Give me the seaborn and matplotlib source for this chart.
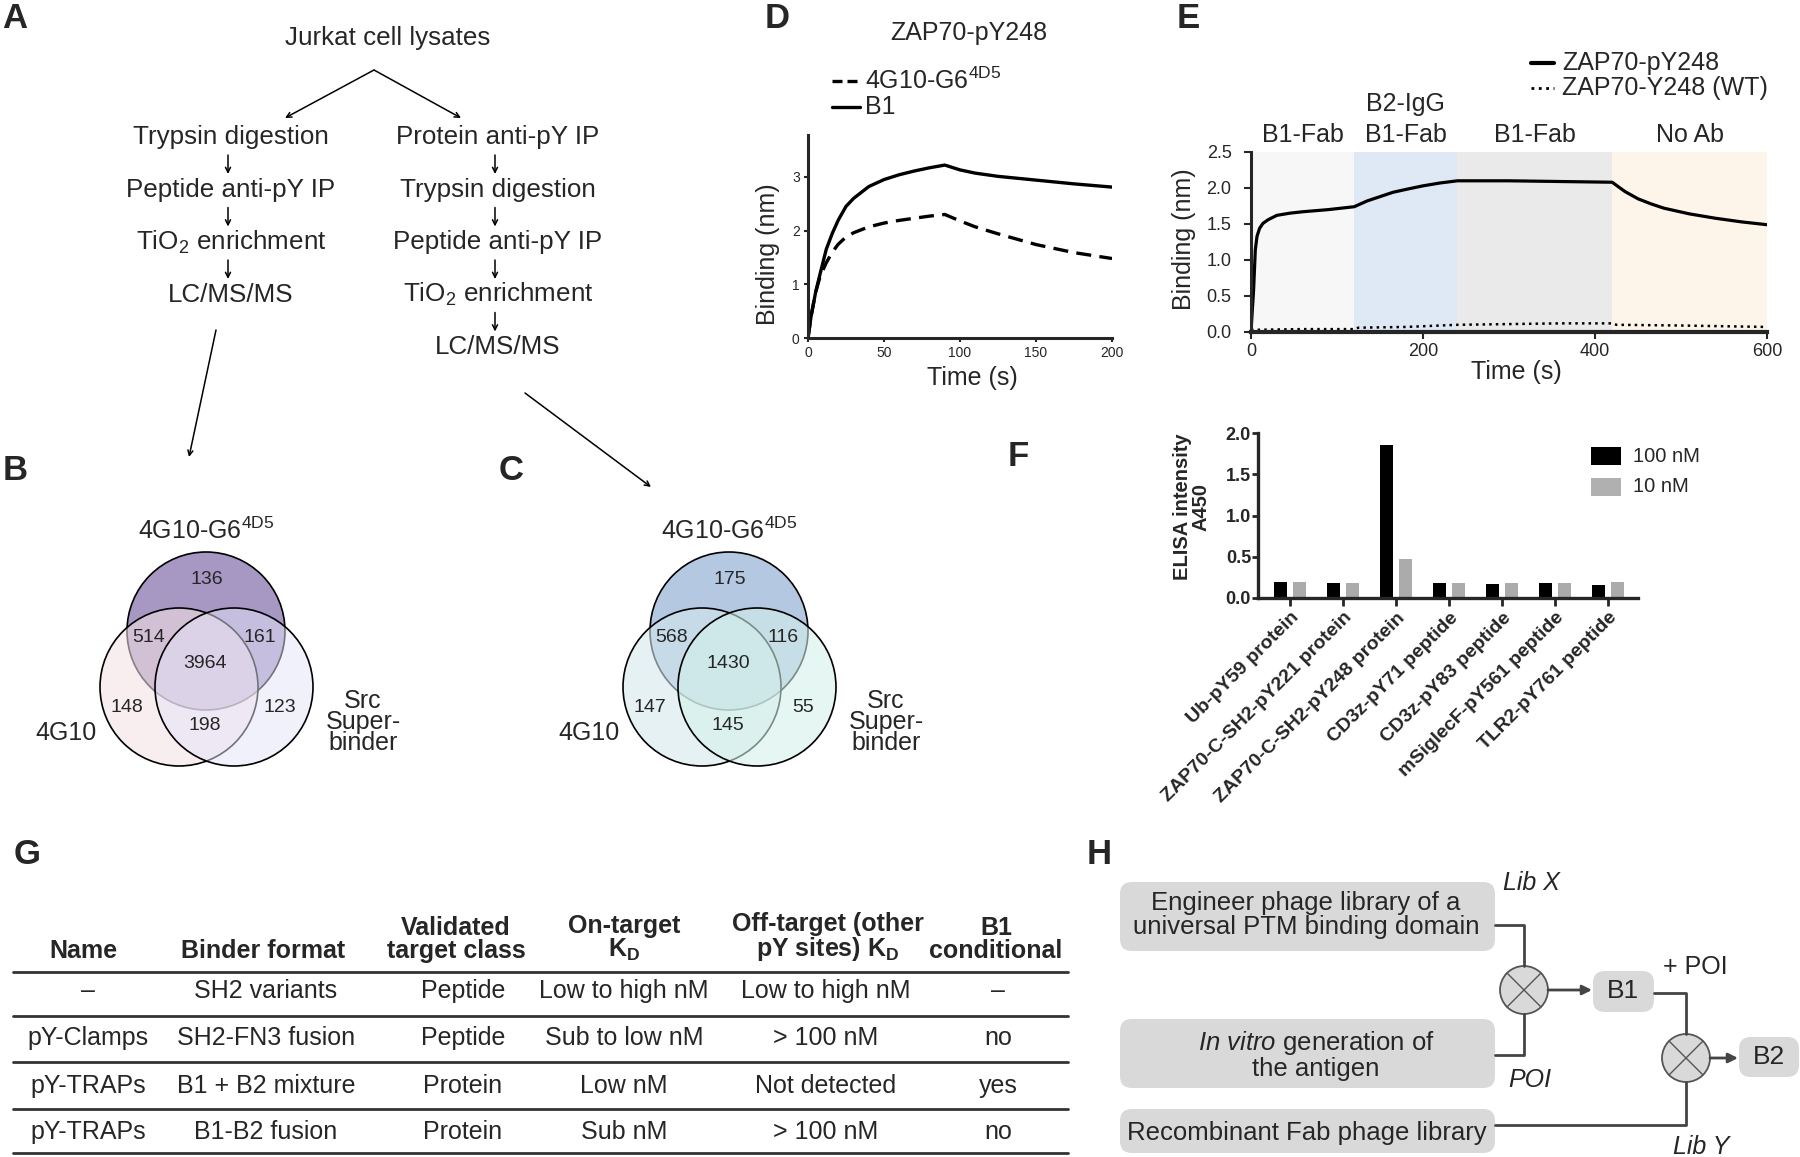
import matplotlib
matplotlib.use('Agg')
import numpy as np
import pandas as pd
import matplotlib.pyplot as plt
from matplotlib.patches import Circle, FancyBboxPatch, Rectangle
from matplotlib.transforms import blended_transform_factory
import seaborn as sns

# ---------------- data ----------------
# A: workflow steps
a_left_steps = ['Trypsin digestion', 'Peptide anti-pY IP', 'TiO$_2$ enrichment', 'LC/MS/MS']
a_right_steps = ['Protein anti-pY IP', 'Trypsin digestion', 'Peptide anti-pY IP',
                 'TiO$_2$ enrichment', 'LC/MS/MS']

# B / C: venn counts (top only, top&left, top&right, all, left only, left&right, right only)
venn_b_counts = [136, 514, 161, 3964, 148, 198, 123]
venn_c_counts = [175, 568, 116, 1430, 147, 145, 55]
venn_sets = ['4G10-G6$^{\\mathregular{4D5}}$', '4G10', 'Src\nSuper-\nbinder']

# D: BLI binding to ZAP70-pY248
d_time = [0, 2, 5, 8, 12, 16, 20, 25, 30, 40, 50, 60, 70, 80, 90, 100, 110, 125, 150, 175, 200]
d_b1 = [0, 0.4, 0.85, 1.2, 1.65, 1.95, 2.2, 2.45, 2.6, 2.82, 2.95, 3.04, 3.11, 3.17, 3.22,
        3.13, 3.07, 3.01, 2.94, 2.87, 2.81]
d_4g10 = [0, 0.4, 0.85, 1.15, 1.4, 1.6, 1.75, 1.88, 1.96, 2.07, 2.14, 2.19, 2.23, 2.27, 2.3,
          2.18, 2.07, 1.94, 1.74, 1.59, 1.48]

# E: sequential binding
e_time = [0, 1, 3, 5, 7, 10, 14, 20, 30, 45, 60, 90, 120, 135, 150, 165, 180, 200, 220, 240,
          300, 360, 420, 428, 435, 450, 465, 480, 510, 540, 570, 600]
e_py248 = [0.0, 0.2, 0.58, 1.14, 1.33, 1.44, 1.51, 1.56, 1.62, 1.65, 1.67, 1.70, 1.74, 1.82,
           1.88, 1.94, 1.98, 2.03, 2.07, 2.10, 2.10, 2.09, 2.08, 2.01, 1.95, 1.85, 1.78, 1.72,
           1.64, 1.58, 1.53, 1.49]
e_wt_time = [0, 60, 120, 125, 180, 240, 300, 360, 420, 425, 500, 600]
e_wt = [0.03, 0.04, 0.04, 0.06, 0.07, 0.10, 0.11, 0.12, 0.12, 0.10, 0.09, 0.07]
e_phases = [(0, 120), (120, 240), (240, 420), (420, 600)]
e_phase_labels = ['B1-Fab', 'B2-IgG\nB1-Fab', 'B1-Fab', 'No Ab']
e_phase_colors = ['#f7f7f7', '#dfe9f6', '#eaeaea', '#fdf5ea']

# F: ELISA
f_targets = ['Ub-pY59 protein', 'ZAP70-C-SH2-pY221 protein', 'ZAP70-C-SH2-pY248 protein',
             'CD3z-pY71 peptide', 'CD3z-pY83 peptide', 'mSiglecF-pY561 peptide', 'TLR2-pY761 peptide']
f_100nm = [0.19, 0.18, 1.85, 0.18, 0.17, 0.18, 0.16]
f_10nm = [0.19, 0.18, 0.47, 0.18, 0.18, 0.18, 0.20]

# G: table
g_header = ['Name', 'Binder format', 'Validated\ntarget class', 'On-target\nK$_\\mathbf{D}$',
            'Off-target (other\npY sites) K$_\\mathbf{D}$', 'B1\nconditional']
g_names = ['\u2013', 'pY-Clamps', 'pY-TRAPs', 'pY-TRAPs']
g_format = ['SH2 variants', 'SH2-FN3 fusion', 'B1 + B2 mixture', 'B1-B2 fusion']
g_class = ['Peptide', 'Peptide', 'Protein', 'Protein']
g_on = ['Low to high nM', 'Sub to low nM', 'Low nM', 'Sub nM']
g_off = ['Low to high nM', '> 100 nM', 'Not detected', '> 100 nM']
g_cond = ['\u2013', 'no', 'yes', 'no']

# ---------------- style ----------------
sns.set_style('ticks')
plt.rcParams['font.family'] = ['Liberation Sans', 'DejaVu Sans']
plt.rcParams['mathtext.fontset'] = 'custom'
plt.rcParams['mathtext.rm'] = 'Liberation Sans'
plt.rcParams['mathtext.it'] = 'Liberation Sans:italic'
plt.rcParams['mathtext.bf'] = 'Liberation Sans:bold'

W, H = 1800, 1157
fig = plt.figure(figsize=(W / 100, H / 100), dpi=100)
ov = fig.add_axes([0, 0, 1, 1])
ov.set_xlim(0, W)
ov.set_ylim(H, 0)
ov.axis('off')


def px_axes(left, top, right, bottom):
    return fig.add_axes([left / W, 1 - bottom / H, (right - left) / W, (bottom - top) / H])


TXT = 18.7
for letter, (x, y) in {'A': (15, 19), 'B': (15, 471), 'C': (511, 471), 'D': (777, 19),
                       'E': (1188, 19), 'F': (1018, 456), 'G': (27, 854), 'H': (1099, 854)}.items():
    ov.text(x, y, letter, fontsize=25, fontweight='bold', ha='center', va='center')

# ---------------- A: workflow ----------------
small_arrow = dict(arrowstyle='->', color='black', lw=1.1, shrinkA=0, shrinkB=0, mutation_scale=9)
ov.text(388, 38, 'Jurkat cell lysates', ha='center', va='center', fontsize=TXT)
ov.annotate('', xy=(285, 118), xytext=(374, 70), arrowprops=small_arrow)
ov.annotate('', xy=(461, 118), xytext=(374, 70), arrowprops=small_arrow)
for col_x, steps in [(231, a_left_steps), (498, a_right_steps)]:
    for i, s in enumerate(steps):
        y = 137 + 52.5 * i
        ov.text(col_x, y, s, ha='center', va='center', fontsize=TXT)
        if i < len(steps) - 1:
            ov.annotate('', xy=(col_x - 3, y + 37), xytext=(col_x - 3, y + 18), arrowprops=small_arrow)
ov.annotate('', xy=(189, 457), xytext=(216, 330), arrowprops=small_arrow)
ov.annotate('', xy=(651, 487), xytext=(525, 393), arrowprops=small_arrow)

# ---------------- B / C: venn ----------------
venn_offsets = [(1, -51), (-57, 6), (54, 6), (-1, 32), (-79, 76), (-1, 95), (74, 76)]


def draw_venn(cx, counts, colors, alphas):
    r = 79
    centers = [(cx, 631), (cx - 27, 687), (cx + 28, 687)]
    for (x, y), c, a in zip(centers, colors, alphas):
        ov.add_patch(Circle((x, y), r, facecolor=c, alpha=a, lw=0))
        ov.add_patch(Circle((x, y), r, facecolor='none', edgecolor='black', lw=1.2))
    for n, (dx, dy) in zip(counts, venn_offsets):
        ov.text(cx + dx, 631 + dy, str(n), ha='center', va='center', fontsize=14)
    ov.text(cx, 531, venn_sets[0], ha='center', va='center', fontsize=18)
    ov.text(cx - 140, 733, venn_sets[1], ha='center', va='center', fontsize=18)
    ov.text(cx + 157, 722, venn_sets[2], ha='center', va='center', fontsize=18, linespacing=0.85)


draw_venn(206, venn_b_counts, ['#a797c3', '#f3e1e3', '#e5e5f9'], [1, 0.57, 0.5])
draw_venn(729, venn_c_counts, ['#b5c8e1', '#d4e8ed', '#d4f1ea'], [1, 0.58, 0.58])

# ---------------- D ----------------
axd = px_axes(808, 135, 1112, 338)
axd.set_facecolor('none')
sns.lineplot(x=d_time, y=d_b1, ax=axd, color='black', lw=2.4)
sns.lineplot(x=d_time, y=d_4g10, ax=axd, color='black', lw=2.4, linestyle=(0, (4.5, 2.5)))
axd.set_xlim(0, 200)
axd.set_ylim(0, 3.78)
axd.set_xticks([0, 50, 100, 150, 200])
axd.set_yticks([0, 1, 2, 3])
sns.despine(ax=axd)
for s in ['left', 'bottom']:
    axd.spines[s].set_linewidth(2.2)
axd.tick_params(length=3, width=1.5, labelsize=10, pad=3)
axd.set_xlabel('')
axd.set_ylabel('')
ov.text(969, 33, 'ZAP70-pY248', ha='center', va='center', fontsize=18)
ov.text(768, 254, 'Binding (nm)', ha='center', va='center', rotation=90, fontsize=18)
ov.text(972, 378, 'Time (s)', ha='center', va='center', fontsize=18)
ov.plot([832, 860], [81, 81], color='black', lw=2.4, ls=(0, (3, 1.5)))
ov.plot([832, 860], [107, 107], color='black', lw=2.4)
ov.text(865, 81, '4G10-G6$^{\\mathregular{4D5}}$', ha='left', va='center', fontsize=18)
ov.text(865, 107, 'B1', ha='left', va='center', fontsize=18)

# ---------------- E ----------------
axe = px_axes(1251, 152, 1767, 332)
axe.set_facecolor('none')
for (a, b), c in zip(e_phases, e_phase_colors):
    axe.axvspan(a, b, color=c, lw=0, zorder=0)
sns.lineplot(x=e_time, y=e_py248, ax=axe, color='black', lw=2.3)
sns.lineplot(x=e_wt_time, y=e_wt, ax=axe, color='black', lw=1.8, linestyle=':')
axe.set_xlim(0, 600)
axe.set_ylim(0, 2.5)
axe.set_xticks([0, 200, 400, 600])
axe.set_yticks([0, 0.5, 1.0, 1.5, 2.0, 2.5])
axe.set_yticklabels(['0.0', '0.5', '1.0', '1.5', '2.0', '2.5'])
sns.despine(ax=axe)
axe.spines['left'].set_linewidth(2.2)
axe.spines['bottom'].set_linewidth(3)
axe.tick_params(length=5, width=1.5, labelsize=13, pad=3)
axe.tick_params(axis='y', pad=9)
axe.set_xlabel('')
axe.set_ylabel('')
tr = blended_transform_factory(axe.transData, ov.transData)
for (a, b), lab in zip(e_phases, e_phase_labels):
    ov.text((a + b) / 2, 147, lab, transform=tr, ha='center', va='bottom', fontsize=18,
            linespacing=1.35)
ov.text(1184, 239, 'Binding (nm)', ha='center', va='center', rotation=90, fontsize=18)
ov.text(1516, 372, 'Time (s)', ha='center', va='center', fontsize=18)
ov.plot([1531, 1554], [63, 63], color='black', lw=3)
ov.plot([1531, 1554], [88, 88], color='black', lw=2, ls=':')
ov.text(1562, 63, 'ZAP70-pY248', ha='left', va='center', fontsize=18)
ov.text(1562, 88, 'ZAP70-Y248 (WT)', ha='left', va='center', fontsize=18)

# ---------------- F ----------------
df_f = pd.DataFrame({'target': f_targets * 2,
                     'conc': ['100 nM'] * len(f_targets) + ['10 nM'] * len(f_targets),
                     'a450': f_100nm + f_10nm})
axf = px_axes(1258, 433, 1638, 598)
axf.set_facecolor('none')
sns.barplot(data=df_f, x='target', y='a450', hue='conc', hue_order=['100 nM', '10 nM'],
            palette=['black', '#ababab'], width=0.72, gap=0.33, saturation=1,
            errorbar=None, legend=False, linewidth=0, ax=axf)
axf.set_xlim(-0.6, 6.56)
axf.set_ylim(0, 2.0)
axf.set_yticks([0, 0.5, 1.0, 1.5, 2.0])
axf.set_yticklabels(['0.0', '0.5', '1.0', '1.5', '2.0'], fontweight='bold', fontsize=13)
axf.set_xticks(range(len(f_targets)))
axf.set_xticklabels(f_targets, rotation=45, ha='right', rotation_mode='anchor',
                    fontweight='bold', fontsize=14)
sns.despine(ax=axf)
for s in ['left', 'bottom']:
    axf.spines[s].set_linewidth(2.4)
axf.tick_params(axis='y', length=4, width=2, pad=1)
axf.tick_params(axis='x', length=6, width=2, pad=2)
axf.set_xlabel('')
axf.set_ylabel('')
ov.text(1192, 507, 'ELISA intensity\nA450', ha='center', va='center', rotation=90,
        fontsize=14.5, fontweight='bold', linespacing=0.95)
for y, c, lab in [(456, 'black', '100 nM'), (487, '#b0b0b0', '10 nM')]:
    ov.add_patch(Rectangle((1591, y - 9), 30, 18, facecolor=c, lw=0))
    ov.text(1633, y, lab, ha='left', va='center', fontsize=14.5)

# ---------------- G: table ----------------
for y in [972, 1016, 1062, 1109, 1153]:
    ov.plot([13, 1068], [y, y], color='#333333', lw=2)
head_x = [83, 263, 456, 624, 828, 996]
row_x = [88, 266, 463, 624, 826, 998]
for x, h in zip(head_x, g_header):
    ov.text(x, 963, h, ha='center', va='bottom', fontsize=18, fontweight='bold',
            multialignment='center', linespacing=0.95)
for i, row in enumerate(zip(g_names, g_format, g_class, g_on, g_off, g_cond)):
    y = [991, 1038, 1086, 1132][i]
    for x, cell in zip(row_x, row):
        ov.text(x, y, cell, ha='center', va='center', fontsize=18)

# ---------------- H: selection scheme ----------------
box_kw = dict(boxstyle='round,pad=0,rounding_size=12', facecolor='#d9d9d9', edgecolor='none')
for x0, y0, x1, y1 in [(1120, 882, 1495, 951), (1120, 1019, 1495, 1088), (1120, 1109, 1495, 1153),
                       (1593, 971, 1654, 1012), (1739, 1037, 1799, 1077)]:
    ov.add_patch(FancyBboxPatch((x0, y0), x1 - x0, y1 - y0, **box_kw))
ov.text(1306, 915, 'Engineer phage library of a\nuniversal PTM binding domain', ha='center',
        va='center', fontsize=18.5, linespacing=1.05)
ov.text(1316, 1055, '$\\mathit{In\\ vitro}$ generation of\nthe antigen', ha='center', va='center',
        fontsize=18.5, linespacing=1.05)
ov.text(1307, 1133, 'Recombinant Fab phage library', ha='center', va='center', fontsize=18.5)
ov.text(1623, 991, 'B1', ha='center', va='center', fontsize=19)
ov.text(1769, 1057, 'B2', ha='center', va='center', fontsize=19)
ov.text(1531, 883, 'Lib X', ha='center', va='center', fontsize=18, style='italic')
ov.text(1530, 1080, 'POI', ha='center', va='center', fontsize=18, style='italic')
ov.text(1701, 1147, 'Lib Y', ha='center', va='center', fontsize=18, style='italic')
ov.text(1695, 967, '+ POI', ha='center', va='center', fontsize=18)

line_kw = dict(color='#444444', lw=2)
ov.plot([1495, 1524, 1524], [925, 925, 966], **line_kw)
ov.plot([1495, 1524, 1524], [1055, 1055, 1014], **line_kw)
ov.plot([1654, 1686, 1686], [993, 993, 1034], **line_kw)
ov.plot([1495, 1686, 1686], [1125, 1125, 1082], **line_kw)
big_arrow = dict(arrowstyle='-|>', color='#444444', lw=2, shrinkA=0, shrinkB=0, mutation_scale=14)
ov.annotate('', xy=(1592, 990), xytext=(1548, 990), arrowprops=big_arrow)
ov.annotate('', xy=(1738, 1058), xytext=(1710, 1058), arrowprops=big_arrow)
for cx, cy in [(1524, 990), (1686, 1058)]:
    ov.add_patch(Circle((cx, cy), 24, facecolor='#d9d9d9', edgecolor='#555555', lw=1.3))
    d = 24 * np.cos(np.pi / 4)
    ov.plot([cx - d, cx + d], [cy - d, cy + d], color='#555555', lw=1)
    ov.plot([cx - d, cx + d], [cy + d, cy - d], color='#555555', lw=1)

fig.savefig('out.png', dpi=100)
